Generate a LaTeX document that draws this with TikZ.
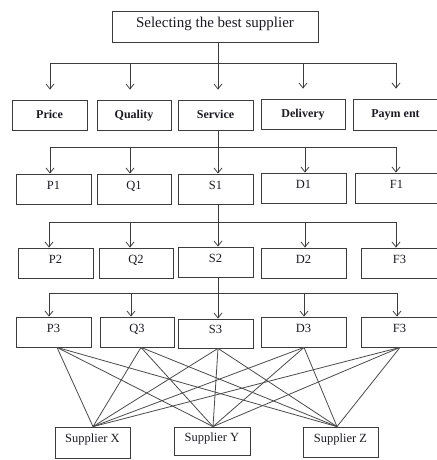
\documentclass[tikz,border=0pt]{standalone}
\usepackage{fontspec}
\setmainfont{Liberation Serif}
\usetikzlibrary{arrows.meta}
\definecolor{ink}{HTML}{1A1A22}
\definecolor{edge}{HTML}{3C3C3C}
\definecolor{mesh}{HTML}{4A4A4A}
\tikzset{
  box/.style={draw=edge, line width=0.8pt, minimum height=30pt, inner sep=0pt,
    text=ink, font=\fontsize{12.5}{14}\selectfont, text height=9pt, text depth=9pt},
  crit/.style={box, font=\bfseries\fontsize{12}{14}\selectfont, text height=8pt, text depth=2pt},
  wire/.style={draw=edge, line width=0.8pt},
  arr/.style={wire, -{Straight Barb[length=5pt,width=8pt]}},
  link/.style={draw=mesh, line width=0.8pt}
}
\begin{document}
\begin{tikzpicture}[x=1pt,y=-1pt]
\useasboundingbox (0,0) rectangle (436,460);

% goal
\node[box, minimum width=206pt, minimum height=31pt, font=\fontsize{15}{17}\selectfont,
      text height=10pt, text depth=8pt] (root) at (215,26.5) {Selecting the best supplier};

% criteria
\node[crit, minimum width=75pt] (price)    at (49.5,115)  {Price};
\node[crit, minimum width=74pt] (quality)  at (134,115)   {Quality};
\node[crit, minimum width=75pt] (service)  at (215.5,115) {Service};
\node[crit, minimum width=84pt] (delivery) at (303,114)   {Delivery};
\node[crit, minimum width=85pt, minimum height=31pt] (payment) at (395.5,114.5) {Paym ent};

% first sub-criteria
\node[box, minimum width=75pt] (p1) at (53.5,189)  {P1};
\node[box, minimum width=74pt] (q1) at (134,189)   {Q1};
\node[box, minimum width=75pt] (s1) at (215.5,189) {S1};
\node[box, minimum width=85pt] (d1) at (303.5,188) {D1};
\node[box, minimum width=83pt] (f1) at (396.5,188) {F1};

% second sub-criteria
\node[box, minimum width=75pt] (p2) at (55.5,263)  {P2};
\node[box, minimum width=74pt] (q2) at (136,263)   {Q2};
\node[box, minimum width=75pt] (s2) at (215.5,262) {S2};
\node[box, minimum width=85pt] (d2) at (303.5,263) {D2};
\node[box, minimum width=77pt] (f2) at (399.5,263) {F3};

% third sub-criteria
\node[box, minimum width=75pt] (p3) at (53.5,332)  {P3};
\node[box, minimum width=74pt] (q3) at (137,332)   {Q3};
\node[box, minimum width=75pt, minimum height=29pt] (s3) at (215.5,333.5) {S3};
\node[box, minimum width=85pt] (d3) at (303.5,332) {D3};
\node[box, minimum width=77pt] (f3) at (399.5,332) {F3};

% alternatives
\node[box, minimum width=75pt, minimum height=31pt] (sx) at (92.5,442.5) {Supplier X};
\node[box, minimum width=76pt, minimum height=28pt] (sy) at (212,441)    {Supplier Y};
\node[box, minimum width=75pt] (sz) at (340.5,442) {Supplier Z};

% goal -> criteria
\coordinate (t1) at (218,63);
\draw[wire] (t1 |- root.south) -- (t1);
\draw[wire] (50,63) -- (396,63);
\foreach \x/\n in {50/price,130/quality,218/service,303/delivery,396/payment}
  \draw[arr, shorten >=10pt] (\x,63) -- (\x,63 |- \n.north);

% criteria -> first level
\coordinate (t2) at (218,147);
\draw[wire] (t2 |- service.south) -- (t2);
\draw[wire] (50,147) -- (396,147);
\foreach \x/\n in {50/p1,130/q1,218/s1,305/d1,396/f1}
  \draw[arr] (\x,147) -- (\x,147 |- \n.north);

% first -> second level
\coordinate (t3) at (218,222);
\draw[wire] (t3 |- s1.south) -- (t3);
\draw[wire] (49,222) -- (396,222);
\foreach \x/\n in {49/p2,130/q2,218/s2,305/d2,396/f2}
  \draw[arr] (\x,222) -- (\x,222 |- \n.north);

% second -> third level
\coordinate (t4) at (218,293);
\draw[wire] (t4 |- s2.south) -- (t4);
\draw[wire] (49,293) -- (397,293);
\foreach \x/\n in {49/p3,131/q3,218/s3,304/d3,397/f3}
  \draw[arr] (\x,293) -- (\x,293 |- \n.north);

% third level -> alternatives
\coordinate (op) at ([xshift=3.5pt]p3.south);
\coordinate (oq) at ([xshift=4pt]q3.south);
\coordinate (os) at ([xshift=2.5pt]s3.south);
\coordinate (od) at ([xshift=0.5pt]d3.south);
\coordinate (of) at ([xshift=0.5pt]f3.south);
\coordinate (ix) at ([xshift=0.5pt]sx.north);
\coordinate (iy) at ([xshift=1pt]sy.north);
\coordinate (iz) at ([xshift=-3.5pt]sz.north);
\foreach \a in {op,oq,os,od,of}
  \foreach \b in {ix,iy,iz}
    \draw[link] (\a) -- (\b);
\end{tikzpicture}
\end{document}
